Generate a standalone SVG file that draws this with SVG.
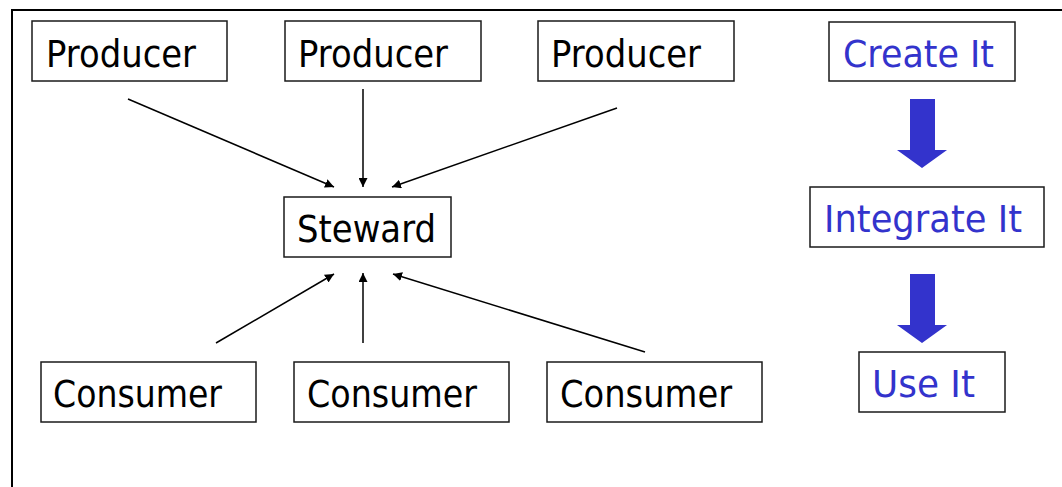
<svg xmlns="http://www.w3.org/2000/svg" width="1062" height="487" viewBox="0 0 1062 487">
<defs>
<style>
.box{fill:#fff;stroke:#1a1a1a;stroke-width:1.5}
.t{font-family:"DejaVu Sans","Noto Sans",sans-serif;font-size:37px;fill:#000}
.b{fill:#3333cc}
.c{stroke:#000;stroke-width:1.5;fill:none;marker-end:url(#ah)}
.blue{fill:#3333cc}
</style>
<marker id="ah" viewBox="0 0 10 10" refX="10" refY="5" markerWidth="6" markerHeight="6" markerUnits="strokeWidth" orient="auto">
<path d="M0,0 L10,5 L0,10 z" fill="#000"/>
</marker>
</defs>
<rect width="1062" height="487" fill="#fff"/>
<path d="M12,487 V10 H1062" fill="none" stroke="#000" stroke-width="2"/>
<g id="producer1"><rect class="box" x="32" y="21" width="195" height="60"/><text class="t" x="46" y="67" textLength="150" lengthAdjust="spacingAndGlyphs">Producer</text></g>
<g id="producer2"><rect class="box" x="285" y="21" width="196" height="60"/><text class="t" x="298" y="67" textLength="150" lengthAdjust="spacingAndGlyphs">Producer</text></g>
<g id="producer3"><rect class="box" x="538" y="21" width="196" height="60"/><text class="t" x="551" y="67" textLength="150" lengthAdjust="spacingAndGlyphs">Producer</text></g>
<g id="steward"><rect class="box" x="284" y="197" width="167" height="60"/><text class="t" x="297" y="242" textLength="139" lengthAdjust="spacingAndGlyphs">Steward</text></g>
<g id="consumer1"><rect class="box" x="41" y="362" width="215" height="60"/><text class="t" x="53" y="407" textLength="169" lengthAdjust="spacingAndGlyphs">Consumer</text></g>
<g id="consumer2"><rect class="box" x="294" y="362" width="215" height="60"/><text class="t" x="307" y="407" textLength="170" lengthAdjust="spacingAndGlyphs">Consumer</text></g>
<g id="consumer3"><rect class="box" x="547" y="362" width="215" height="60"/><text class="t" x="560" y="407" textLength="172" lengthAdjust="spacingAndGlyphs">Consumer</text></g>
<g id="create"><rect class="box" x="829" y="22" width="186" height="59"/><text class="t b" x="843" y="67" textLength="151" lengthAdjust="spacingAndGlyphs">Create It</text></g>
<g id="integrate"><rect class="box" x="810" y="187" width="234" height="60"/><text class="t b" x="824" y="232" textLength="198" lengthAdjust="spacingAndGlyphs">Integrate It</text></g>
<g id="use"><rect class="box" x="859" y="352" width="146" height="60"/><text class="t b" x="872" y="397" textLength="103" lengthAdjust="spacingAndGlyphs">Use It</text></g>
<g id="connectors">
<line class="c" x1="128" y1="99" x2="334" y2="187"/>
<line class="c" x1="363" y1="89" x2="363" y2="187"/>
<line class="c" x1="617" y1="108" x2="392" y2="187"/>
<line class="c" x1="216" y1="343" x2="334" y2="274"/>
<line class="c" x1="363" y1="343" x2="363" y2="273"/>
<line class="c" x1="645" y1="352" x2="393" y2="274"/>
<path class="blue" d="M910,99 H935 V150 H947 L922,168 L897,150 H910 z"/>
<path class="blue" d="M910,274 H935 V325 H947 L922,343 L897,325 H910 z"/>
</g>
</svg>
